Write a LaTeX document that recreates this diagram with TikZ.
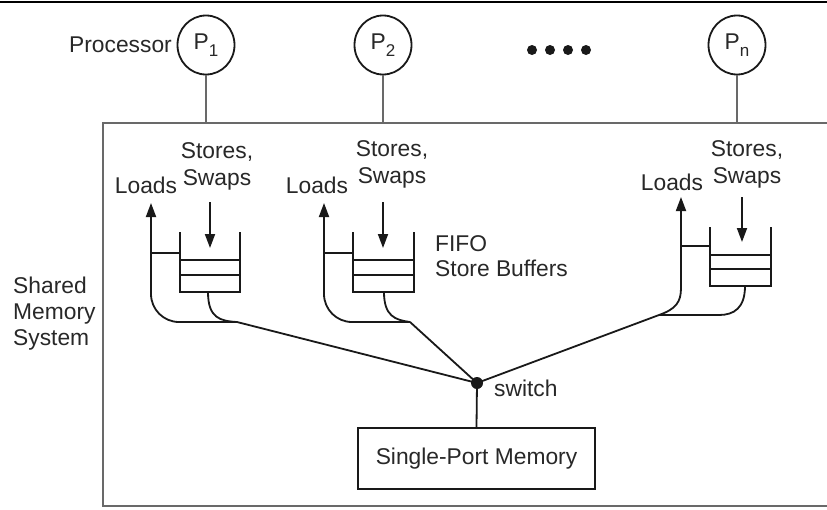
\documentclass[tikz,border=0pt]{standalone}
\usepackage{fontspec}
\setmainfont{Liberation Sans}
\usetikzlibrary{arrows.meta,shapes.geometric}
\definecolor{ink}{RGB}{25,25,25}
\definecolor{txt}{RGB}{40,40,40}
\definecolor{framec}{RGB}{105,105,105}
\newcommand\psub[1]{\raisebox{-7pt}{\fontsize{17}{17}\selectfont #1}}
\begin{document}
\begin{tikzpicture}[x=1pt,y=-1pt,
  wire/.style={line width=1.8pt,draw=ink},
  arr/.style={wire,-{Triangle[length=14pt,width=10pt]}},
  frame/.style={line width=2pt,draw=framec},
  stub/.style={line width=1.5pt,draw=framec},
  proc/.style={ellipse,draw=ink,line width=1.8pt,minimum width=57pt,minimum height=59pt,inner sep=0pt,
    font=\fontsize{22.8}{27}\selectfont,text=txt},
  lbl/.style={font=\fontsize{22.8}{27}\selectfont,text=txt,inner sep=0pt},
  dot/.style={circle,fill=ink,inner sep=0pt,minimum size=10pt},
]
\useasboundingbox (0,0) rectangle (827,509);
\clip (0,0) rectangle (827,509);
\fill[white] (0,0) rectangle (827,509);
\draw[line width=1.5pt,draw=black] (0,2) -- (827,2);

% processors
\node[lbl,anchor=east] (proclbl) at (172,45) {Processor};
\node[proc] (p1) at (206,45) {P\psub{1}};
\node[proc] (p2) at (383,45) {P\psub{2}};
\node[proc] (pn) at (737,45) {P\psub{n}};
\node[dot] (d1) at (532,50) {};
\node[dot] (d2) at (550,50) {};
\node[dot] (d3) at (568,50) {};
\node[dot] (d4) at (586,50) {};

% shared memory system frame (open to the right)
\coordinate (t1) at (206,123);
\coordinate (t2) at (383,123);
\coordinate (tn) at (737,123);
\draw[stub] (p1.south) -- (t1);
\draw[stub] (p2.south) -- (t2);
\draw[stub] (pn.south) -- (tn);
\draw[frame] (840,123) -- (103,123) -- (103,506) -- (840,506);
\node[lbl,anchor=west,align=left] (sms) at (13,314) {Shared\\[-1pt]Memory\\[-1pt]System};

% switch and memory
\node[circle,fill=ink,inner sep=0pt,minimum size=12pt] (sw) at (477,383) {};
\node[lbl,anchor=west] (swlbl) at (494,388) {switch};
\node[lbl,draw=ink,line width=1.8pt,minimum width=237pt,minimum height=61pt] (mem) at (476.5,458.5) {Single-Port Memory};
\draw[wire] (sw.center) -- (mem.north);

% ---------- unit 1 ----------
\node[lbl] (ld1) at (146,185) {Loads};
\node[lbl,align=center] (st1) at (217,166) {Stores,\\Swaps};
\coordinate (a1) at (210,202);
\coordinate (a1e) at (210,248);
\draw[arr] (a1) -- (a1e);
\draw[wire] (180,232) -- (180,292) -- (240,292) -- (240,232);
\draw[wire] (180,260) -- (240,260) (180,275) -- (240,275);
\coordinate (j1) at (237,322);
\coordinate (l1) at (151,203);
\draw[arr,rounded corners=28pt] (j1) -| (l1);
\draw[wire] (151,253) -- (180,253);
\draw[wire] (208,292) .. controls (208,318) and (220,321) .. (j1);
\draw[wire] (j1) -- (sw.center);

% ---------- unit 2 ----------
\node[lbl] (ld2) at (317,185) {Loads};
\node[lbl,align=center] (st2) at (392,164) {Stores,\\Swaps};
\coordinate (a2) at (383,202);
\coordinate (a2e) at (383,248);
\draw[arr] (a2) -- (a2e);
\draw[wire] (353,232) -- (353,292) -- (414,292) -- (414,232);
\draw[wire] (353,260) -- (414,260) (353,275) -- (414,275);
\coordinate (j2) at (410,322);
\coordinate (l2) at (324,203);
\draw[arr,rounded corners=28pt] (j2) -| (l2);
\draw[wire] (324,253) -- (353,253);
\draw[wire] (384,292) .. controls (384,316) and (395,320) .. (j2);
\draw[wire] (j2) -- (sw.center);
\node[lbl,anchor=west,align=left] (fifo) at (435,256) {FIFO\\[-2pt]Store Buffers};

% ---------- unit n ----------
\node[lbl] (ldn) at (672,182) {Loads};
\node[lbl,align=center] (stn) at (747,164) {Stores,\\Swaps};
\coordinate (an) at (742,197);
\coordinate (ane) at (742,242);
\draw[arr] (an) -- (ane);
\draw[wire] (710,227) -- (710,286) -- (771,286) -- (771,227);
\draw[wire] (710,255) -- (771,255) (710,269) -- (771,269);
\coordinate (jn) at (659,315);
\coordinate (ln) at (681,197);
\draw[arr] (jn) .. controls (676,309) and (681,302) .. (681,288) -- (ln);
\draw[wire] (681,246) -- (710,246);
\draw[wire] (745,286) .. controls (745,308) and (734,315) .. (719,315) -- (jn);
\draw[wire] (jn) -- (sw.center);
\end{tikzpicture}
\end{document}
